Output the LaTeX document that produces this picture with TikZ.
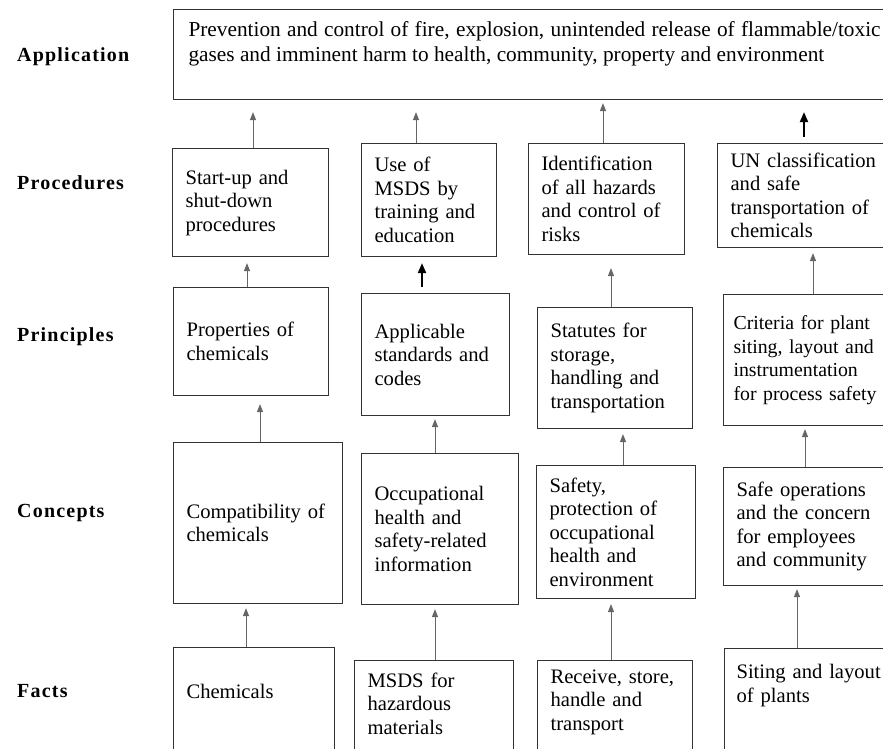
\documentclass[tikz,border=0pt]{standalone}
\usepackage{fontspec}
\setmainfont{Liberation Serif}
\usetikzlibrary{arrows.meta}

\begin{document}
\begin{tikzpicture}[
                x=1pt, y=-1pt,
                box/.style = {
                    draw=black!80,
                    line width=1.1pt,
                    rectangle,
                    anchor=north west,
                    align=left,
                    inner xsep=13pt,
                    font=\fontsize{20.6}{23.5}\selectfont
                },
                fact/.style = {box, text depth=110pt},
                rowlabel/.style = {
                    anchor=west,
                    inner sep=0pt,
                    font=\fontsize{20}{24}\selectfont\bfseries\addfontfeature{LetterSpace=6}
                },
                arr/.style = {draw=black!60, line width=1pt, -{Triangle[length=8pt,width=6pt]}, shorten >=#1},
                arr/.default = 4pt,
                barr/.style = {draw=black, line width=2pt, -{Triangle[length=10pt,width=8pt]}, shorten >=#1, shorten <=6pt},
                barr/.default = 8pt
            ]
            \useasboundingbox (0,0) rectangle (883,749);
            % row labels
            \node[rowlabel] (lapp) at (17,57) {Application};
            \node[rowlabel] (lproc) at (17,183) {Procedures};
            \node[rowlabel] (lprin) at (17,337) {Principles};
            \node[rowlabel] (lconc) at (17,513) {Concepts};
            \node[rowlabel] (lfact) at (17,691) {Facts};
            %
            \node[box, align=justify, text width=692pt, inner xsep=15pt, inner ysep=11.5pt, text depth=52pt,
                  font=\fontsize{21.3}{25}\selectfont] (app) at (173,9)
                {Prevention and control of fire, explosion, unintended release of flammable/toxic\linebreak
                 gases and imminent harm to health, community, property and environment};
            %
            \node[box, text width=130pt, minimum height=108pt] (p1) at (172,148) {Start-up and\\shut-down\\procedures};
            \node[box, text width=109pt, minimum height=113pt] (p2) at (361,143) {Use of\\MSDS by\\training and\\education};
            \node[box, text width=130pt, minimum height=111pt] (p3) at (528,143) {Identification\\of all hazards\\and control of\\risks};
            \node[box, text width=170pt, minimum height=104pt] (p4) at (717,143) {UN classification\\and safe\\transportation of\\chemicals};
            %
            \node[box, text width=129pt, minimum height=108pt] (r1) at (173,287) {Properties of\\chemicals};
            \node[box, text width=122pt, minimum height=122pt] (r2) at (361,293) {Applicable\\standards and\\codes};
            \node[box, text width=129pt, minimum height=121pt] (r3) at (537,307) {Statutes for\\storage,\\handling and\\transportation};
            \node[box, text width=170pt, minimum height=131pt, inner xsep=10pt,
                  font=\fontsize{19.8}{23.5}\selectfont] (r4) at (723,294) {Criteria for plant\\siting, layout and\\instrumentation\\for process safety};
            %
            \node[box, text width=143pt, minimum height=161pt] (c1) at (173,442) {Compatibility of\\chemicals};
            \node[box, text width=131pt, minimum height=151pt] (c2) at (361,453) {Occupational\\health and\\safety-related\\information};
            \node[box, text width=133pt, minimum height=133pt] (c3) at (536,465) {Safety,\\protection of\\occupational\\health and\\environment};
            \node[box, text width=170pt, minimum height=118pt] (c4) at (723,467) {Safe operations\\and the concern\\for employees\\and community};
            %
            \node[fact, text width=135pt, inner ysep=37pt] (f1) at (173,647) {Chemicals};
            \node[fact, text width=133pt, inner ysep=12pt] (f2) at (354,660) {MSDS for\\hazardous\\materials};
            \node[fact, text width=129pt, inner ysep=9pt] (f3) at (537,660) {Receive, store,\\handle and\\transport};
            \node[fact, text width=170pt, inner ysep=16pt, inner xsep=12pt] (f4) at (724,648) {Siting and layout\\of plants};
            %
            \draw[arr=12pt] (253,0 |- p1.north) -- (253,0 |- app.south);
            \draw[arr=12pt] (416,0 |- p2.north) -- (416,0 |- app.south);
            \draw[arr=3pt] (603,0 |- p3.north) -- (603,0 |- app.south);
            \draw[barr=12pt] (804,0 |- p4.north) -- (804,0 |- app.south);
            %
            \draw[arr=6pt] (247,0 |- r1.north) -- (247,0 |- p1.south);
            \draw[barr=6pt] (422,0 |- r2.north) -- (422,0 |- p2.south);
            \draw[arr=13pt] (611,0 |- r3.north) -- (611,0 |- p3.south);
            \draw[arr=5pt] (813,0 |- r4.north) -- (813,0 |- p4.south);
            %
            \draw[arr=8pt] (260,0 |- c1.north) -- (260,0 |- r1.south);
            \draw[arr=3pt] (435,0 |- c2.north) -- (435,0 |- r2.south);
            \draw[arr=5pt] (623,0 |- c3.north) -- (623,0 |- r3.south);
            \draw[arr=3pt] (805,0 |- c4.north) -- (805,0 |- r4.south);
            %
            \draw[arr] (246,0 |- f1.north) -- (246,0 |- c1.south);
            \draw[arr] (435,0 |- f2.north) -- (435,0 |- c2.south);
            \draw[arr=5pt] (611,0 |- f3.north) -- (611,0 |- c3.south);
            \draw[arr=3pt] (797,0 |- f4.north) -- (797,0 |- c4.south);
            %
\end{tikzpicture}
\end{document}
